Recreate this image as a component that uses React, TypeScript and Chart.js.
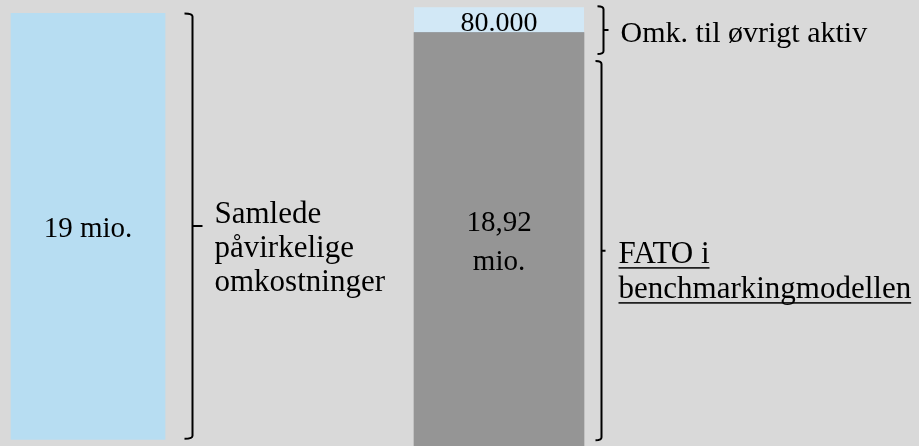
import React, { useEffect, useRef } from 'react';
import { Chart, registerables } from 'chart.js';

Chart.register(...registerables);

// Categories (two columns of the diagram)
const categories = ['Samlede påvirkelige omkostninger', 'FATO i benchmarkingmodellen'];

// Bar extents in diagram units (0 = bottom edge of the drawing, 100 = top edge).
// The original figure is schematic (not to scale), so the drawn extents are read from the picture.
const totalSpan: ([number, number] | null)[] = [[1.5, 97.0], null];
const fatoSpan: ([number, number] | null)[] = [null, [0, 92.7]];
const otherSpan: ([number, number] | null)[] = [null, [92.7, 98.4]];

// Value labels written inside the bars
const barLabels: string[][] = [['19 mio.'], ['18,92', 'mio.'], ['80.000']];

// Brace extents (same diagram units) and the texts beside them
const bracketSpans: [number, number][] = [[1.6, 97.0], [1.3, 86.3], [87.9, 98.6]];
const sideLabels: string[][] = [
  ['Samlede', 'påvirkelige', 'omkostninger'],
  ['FATO i', 'benchmarkingmodellen'],
  ['Omk. til øvrigt aktiv'],
];

const FONT = '"Liberation Serif", "Times New Roman", serif';

const STYLE = [
  { labelSize: 29, labelLine: 39, gap: 27, hook: 8, tick: 10, lw: 2, textGap: 22, textDy: -3, sideSize: 31, sideLine: 34, underline: false },
  { labelSize: 29, labelLine: 39, gap: 17, hook: 6, tick: 4, lw: 2, textGap: 17, textDy: 12.5, sideSize: 31, sideLine: 35, underline: true },
  { labelSize: 28, labelLine: 0, gap: 19, hook: 6, tick: 5, lw: 2, textGap: 17, textDy: 12, sideSize: 30, sideLine: 0, underline: false },
];

const annotate = {
  id: 'annotate',
  afterDatasetsDraw(chart: any) {
    const ctx: CanvasRenderingContext2D = chart.ctx;
    const yScale = chart.scales.y;
    chart.data.datasets.forEach((ds: any, i: number) => {
      const meta = chart.getDatasetMeta(i);
      const idx = ds.data.findIndex((v: any) => v != null);
      const el = meta.data[idx];
      if (!el) return;
      const st = STYLE[i];
      const p = el.getProps(['x', 'y', 'base', 'width'], true);
      const top = Math.min(p.y, p.base);
      const bot = Math.max(p.y, p.base);
      const cx = p.x;
      const cy = (top + bot) / 2;

      ctx.save();
      // value label inside the bar
      ctx.fillStyle = '#000';
      ctx.font = `${st.labelSize}px ${FONT}`;
      ctx.textAlign = 'center';
      ctx.textBaseline = 'alphabetic';
      const lines = barLabels[i];
      const b0 = cy + 11 - ((lines.length - 1) * st.labelLine) / 2;
      lines.forEach((t, k) => ctx.fillText(t, cx, b0 + k * st.labelLine));

      // brace
      const [lo, hi] = bracketSpans[i];
      const yT = yScale.getPixelForValue(hi);
      const yB = yScale.getPixelForValue(lo);
      const yM = (yT + yB) / 2;
      const bx = Math.round(cx + p.width / 2 + st.gap) + 0.5;
      ctx.strokeStyle = '#000';
      ctx.lineWidth = st.lw;
      ctx.lineJoin = 'round';
      ctx.beginPath();
      ctx.moveTo(bx - st.hook, yT);
      ctx.quadraticCurveTo(bx, yT, bx, yT + 3);
      ctx.lineTo(bx, yB - 3);
      ctx.quadraticCurveTo(bx, yB, bx - st.hook, yB);
      ctx.moveTo(bx, yM);
      ctx.lineTo(bx + st.tick, yM);
      ctx.stroke();

      // side text
      ctx.textAlign = 'left';
      ctx.font = `${st.sideSize}px ${FONT}`;
      sideLabels[i].forEach((t, k) => {
        const by = yM + st.textDy + k * st.sideLine;
        const tx = bx + st.textGap;
        ctx.fillText(t, tx, by);
        if (st.underline) {
          const w = ctx.measureText(t).width;
          ctx.fillRect(tx, by + 4, w, 1.5);
        }
      });
      ctx.restore();
    });
  },
};

export default function App() {
  const ref = useRef<HTMLCanvasElement>(null);

  useEffect(() => {
    if (!ref.current) return;
    const chart = new Chart(ref.current, {
      type: 'bar',
      data: {
        labels: categories,
        datasets: [
          {
            label: 'Samlede påvirkelige omkostninger',
            data: totalSpan as any,
            backgroundColor: '#b7ddf2',
            barThickness: 154,
            grouped: false,
            borderWidth: 0,
            clip: false,
          },
          {
            label: 'FATO i benchmarkingmodellen',
            data: fatoSpan as any,
            backgroundColor: '#959595',
            barThickness: 170,
            grouped: false,
            borderWidth: 0,
            clip: false,
          },
          {
            label: 'Omk. til øvrigt aktiv',
            data: otherSpan as any,
            backgroundColor: '#d2e8f6',
            borderColor: '#aabfcd',
            borderSkipped: false,
            borderWidth: { top: 0, left: 0, right: 0, bottom: 1 },
            barThickness: 170,
            grouped: false,
            clip: false,
          },
        ],
      } as any,
      options: {
        animation: false,
        responsive: false,
        maintainAspectRatio: false,
        devicePixelRatio: 1,
        layout: { padding: { left: 88, right: 420, top: 0, bottom: 0 } },
        plugins: { legend: { display: false }, tooltip: { enabled: false } },
        scales: {
          x: { type: 'category', offset: false, display: false, grid: { display: false } },
          y: { min: 0, max: 100, display: false, grid: { display: false } },
        },
      },
      plugins: [annotate],
    });
    return () => chart.destroy();
  }, []);

  return (
    <div
      style={{
        position: 'fixed',
        left: 0,
        top: 0,
        width: 919,
        height: 446,
        background: '#d9d9d9',
        overflow: 'hidden',
      }}
    >
      <canvas ref={ref} width={919} height={446} style={{ display: 'block', width: 919, height: 446 }} />
    </div>
  );
}
